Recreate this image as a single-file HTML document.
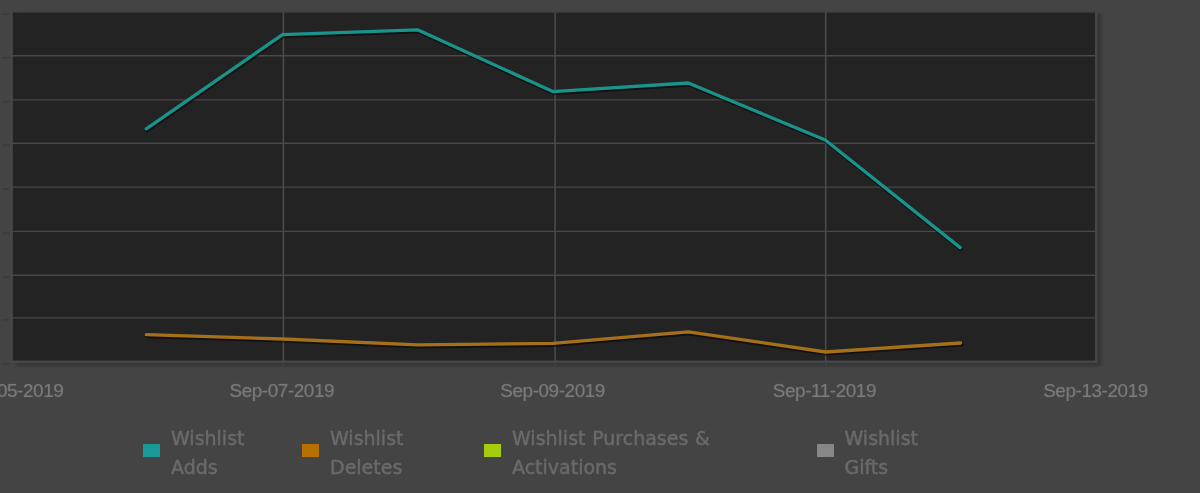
<!DOCTYPE html>
<html>
<head>
<meta charset="utf-8">
<title>Wishlist chart</title>
<style>
  html, body { margin: 0; padding: 0; }
  body { width: 1200px; height: 493px; background: #444444; overflow: hidden; position: relative; font-family: "Liberation Sans", sans-serif; }
  #wrap { position:absolute; left:0; top:0; width:1200px; height:493px; }
  #chart { position: absolute; left: 0; top: 0; width: 1200px; height: 493px; }
  .tick { position: absolute; top: 378.7px; width: 160px; margin-left: -80px; text-align: center; color: #7a7a7a; font-size: 18.9px; letter-spacing: -0.42px; text-shadow: 0 0 1.5px rgba(122,122,122,0.55); line-height: 24px; white-space: nowrap; }
  .leg { position: absolute; top: 424.3px; color: #6a6a6a; font-family: "DejaVu Sans", "Liberation Sans", sans-serif; font-size: 19px; line-height: 28.4px; word-spacing: 0.6px; white-space: nowrap; -webkit-text-stroke: 0.3px #6a6a6a; text-shadow: 0 0 1.5px rgba(106,106,106,0.5); }
  .sw { position: absolute; width: 17px; height: 13.3px; top: 444px; }
</style>
</head>
<body>
<div id="wrap">
<svg id="chart" width="1200" height="493" viewBox="0 0 1200 493">
  <defs>
    <filter id="blur1" x="-5%" y="-5%" width="110%" height="110%"><feGaussianBlur stdDeviation="1.6"/></filter>
    <filter id="blur3" x="-20%" y="-200%" width="140%" height="500%"><feGaussianBlur stdDeviation="0.5"/></filter>
    <filter id="blur2" x="-5%" y="-20%" width="110%" height="140%"><feGaussianBlur stdDeviation="0.7"/></filter>
  </defs>
  <!-- plot shadow -->
  <rect x="16" y="14" width="1085.5" height="352" fill="#363636" filter="url(#blur1)"/>
  <!-- plot background -->
  <rect x="12.6" y="12.6" width="1083" height="348.6" fill="#232323"/>
  <!-- left / top faint edges -->
  <rect x="10" y="12" width="2.6" height="351" fill="#474747"/>
  <!-- tick shadows outside on the left -->
  <g stroke="#3b3b3b" stroke-width="1.6" fill="none" filter="url(#blur3)">
    <line x1="2.5" x2="10" y1="14.2" y2="14.2"/>
    <line x1="2.5" x2="10" y1="57.7" y2="57.7"/>
    <line x1="2.5" x2="10" y1="101.9" y2="101.9"/>
    <line x1="2.5" x2="10" y1="145.3" y2="145.3"/>
    <line x1="2.5" x2="10" y1="189.1" y2="189.1"/>
    <line x1="2.5" x2="10" y1="233.4" y2="233.4"/>
    <line x1="2.5" x2="10" y1="277.3" y2="277.3"/>
    <line x1="2.5" x2="10" y1="319.9" y2="319.9"/>
    <line x1="2.5" x2="10" y1="363.8" y2="363.8"/>
  </g>
  <!-- gridlines -->
  <g stroke="#494949" stroke-width="1.4" fill="none">
    <line x1="9.8" x2="1096" y1="55.7" y2="55.7"/>
    <line x1="9.8" x2="1096" y1="99.9" y2="99.9"/>
    <line x1="9.8" x2="1096" y1="143.3" y2="143.3"/>
    <line x1="9.8" x2="1096" y1="187.1" y2="187.1"/>
    <line x1="9.8" x2="1096" y1="231.4" y2="231.4"/>
    <line x1="9.8" x2="1096" y1="275.3" y2="275.3"/>
    <line x1="9.8" x2="1096" y1="317.9" y2="317.9"/>
  </g>
  <g stroke="#4a4a4a" stroke-width="1.6" fill="none">
    <line y1="12.2" y2="361" x1="283.4" x2="283.4"/>
    <line y1="12.2" y2="361" x1="555.1" x2="555.1"/>
    <line y1="12.2" y2="361" x1="825.7" x2="825.7"/>
  </g>
  <!-- bottom / right border -->
  <g stroke="#474747" stroke-width="2.4" fill="none">
    <line x1="10.3" x2="1097.5" y1="361.8" y2="361.8"/>
    <line y1="12.2" y2="363.1" x1="1096.2" x2="1096.2"/>
  </g>
  <!-- small tick extensions below the axis -->
  <g stroke="#424242" stroke-width="1.6" fill="none" opacity="0.8">
    <line y1="363" y2="367.5" x1="283.4" x2="283.4"/>
    <line y1="363" y2="367.5" x1="555" x2="555"/>
    <line y1="363" y2="367.5" x1="825.7" x2="825.7"/>
  </g>
  <!-- series shadows -->
  <g fill="none" stroke="#000" stroke-opacity="0.5" stroke-width="4.4" stroke-linejoin="round" stroke-linecap="round" transform="translate(0.8,1.4)" filter="url(#blur2)">
    <polyline points="146.3,128.8 282.6,34.6 417.5,29.8 552.8,91.6 688.3,83 825.3,140 960.2,247.6"/>
    <polyline points="146.3,334.6 282.6,339 417.5,344.8 552.8,343.4 688.3,331.8 825.6,352 960.6,343"/>
  </g>
  <!-- series -->
  <polyline fill="none" stroke="#18948c" stroke-width="3.3" stroke-linejoin="round" stroke-linecap="round" points="146.3,128.8 282.6,34.6 417.5,29.8 552.8,91.6 688.3,83 825.3,140 960.2,247.6"/>
  <polyline fill="none" stroke="#a6701a" stroke-width="3.3" stroke-linejoin="round" stroke-linecap="round" points="146.3,334.6 282.6,339 417.5,344.8 552.8,343.4 688.3,331.8 825.6,352 960.6,343"/>
</svg>

<div class="tick" style="left:11px">Sep-05-2019</div>
<div class="tick" style="left:281.8px">Sep-07-2019</div>
<div class="tick" style="left:552.6px">Sep-09-2019</div>
<div class="tick" style="left:824.4px">Sep-11-2019</div>
<div class="tick" style="left:1095.5px">Sep-13-2019</div>

<div class="sw" style="left:143.2px;background:#179a98"></div>
<div class="leg" style="left:171px">Wishlist<br>Adds</div>
<div class="sw" style="left:302.1px;background:#b67004"></div>
<div class="leg" style="left:330px">Wishlist<br>Deletes</div>
<div class="sw" style="left:483.8px;background:#a2cc0c"></div>
<div class="leg" style="left:512px">Wishlist Purchases &amp;<br>Activations</div>
<div class="sw" style="left:816.8px;background:#878787"></div>
<div class="leg" style="left:844.5px">Wishlist<br>Gifts</div>
</div>
</body>
</html>
